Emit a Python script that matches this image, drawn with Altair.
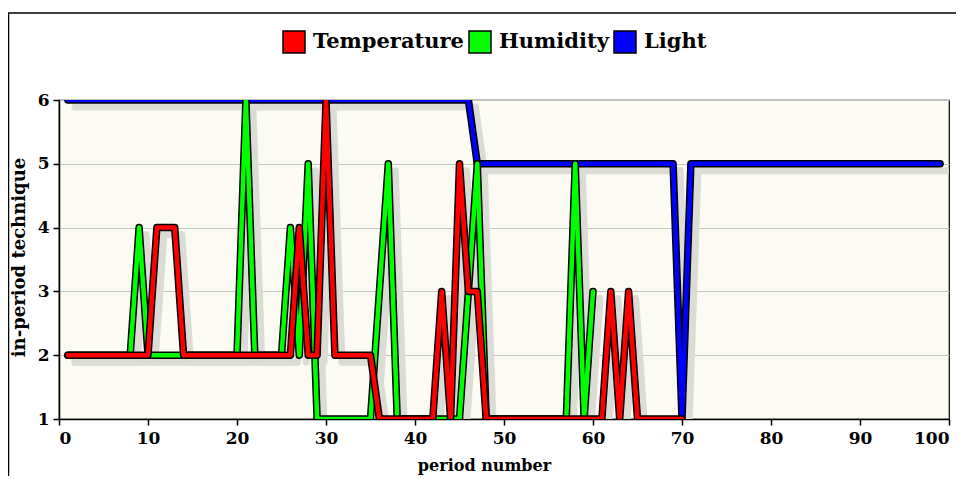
import altair as alt
import pandas as pd

series_names = ["Temperature", "Humidity", "Light"]
series_colors = ["#ff0000", "#00ff00", "#0000ff"]

temperature = [2, 2, 2, 2, 2, 2, 2, 2, 2, 2,
               4, 4, 4, 2, 2, 2, 2, 2, 2, 2,
               2, 2, 2, 2, 2, 2, 4, 2, 2, 6,
               2, 2, 2, 2, 2, 1, 1, 1, 1, 1,
               1, 1, 3, 1, 5, 3, 3, 1, 1, 1,
               1, 1, 1, 1, 1, 1, 1, 1, 1, 1,
               1, 3, 1, 3, 1, 1, 1, 1, 1, 1]

humidity = [2, 2, 2, 2, 2, 2, 2, 2, 4, 2,
            2, 2, 2, 2, 2, 2, 2, 2, 2, 2,
            6, 2, 2, 2, 2, 4, 2, 5, 1, 1,
            1, 1, 1, 1, 1, 3, 5, 1, 1, 1,
            1, 1, 1, 1, 1, 3, 5, 1, 1, 1,
            1, 1, 1, 1, 1, 1, 1, 5, 1, 3]

light = [6, 6, 6, 6, 6, 6, 6, 6, 6, 6,
         6, 6, 6, 6, 6, 6, 6, 6, 6, 6,
         6, 6, 6, 6, 6, 6, 6, 6, 6, 6,
         6, 6, 6, 6, 6, 6, 6, 6, 6, 6,
         6, 6, 6, 6, 6, 6, 5, 5, 5, 5,
         5, 5, 5, 5, 5, 5, 5, 5, 5, 5,
         5, 5, 5, 5, 5, 5, 5, 5, 5, 1,
         5, 5, 5, 5, 5, 5, 5, 5, 5, 5,
         5, 5, 5, 5, 5, 5, 5, 5, 5, 5,
         5, 5, 5, 5, 5, 5, 5, 5, 5]

x_ticks = [0, 10, 20, 30, 40, 50, 60, 70, 80, 90, 100]
y_ticks = [1, 2, 3, 4, 5, 6]

rows = []
for name, vals in zip(series_names, [temperature, humidity, light]):
    for i, v in enumerate(vals):
        rows.append({"series": name, "period": i + 1, "value": v})
df = pd.DataFrame(rows)

FONT = "DejaVu Serif"

x_enc = alt.X("period:Q",
              scale=alt.Scale(domain=[0, 100], nice=False, zero=False),
              axis=alt.Axis(values=x_ticks, title="period number", grid=False,
                            labelPadding=5, titleFontSize=16,
                            titleX=425, titleY=46, titleBaseline="middle",
                            titleAlign="center"))
y_enc = alt.Y("value:Q",
              scale=alt.Scale(domain=[1, 6], nice=False, zero=False),
              axis=alt.Axis(values=y_ticks, title="in-period technique", grid=True,
                            labelPadding=4, titleFontSize=18,
                            titleX=-31, titleY=157, titleAlign="center"))

base = alt.Chart(df)

frame = alt.Chart(alt.Data(values=[{"a": 1}])).mark_rect(
    filled=False, stroke="black", strokeWidth=1.5
).encode(x=alt.value(-50.5), x2=alt.value(1300), y=alt.value(-87), y2=alt.value(800))

shadow = base.mark_line(
    stroke="#dcdcd7", strokeWidth=7, xOffset=7, yOffset=7, clip=True,
    strokeCap="round", strokeJoin="round"
).encode(x=x_enc, y=y_enc, detail="series:N")

layers = [frame, shadow]
for name in ["Light", "Humidity", "Temperature"]:
    col = series_colors[series_names.index(name)]
    sub = base.transform_filter(alt.datum.series == name)
    layers.append(sub.mark_line(stroke="black", strokeWidth=7.5, clip=True,
                                strokeCap="round", strokeJoin="round").encode(x=x_enc, y=y_enc))
    layers.append(sub.mark_line(stroke=col, strokeWidth=4.5, clip=True,
                                strokeCap="round", strokeJoin="round").encode(x=x_enc, y=y_enc))

legend_layer = base.transform_filter("false").mark_square(
    size=484, filled=True, stroke="black", strokeWidth=1.5, opacity=1
).encode(
    x=x_enc, y=y_enc,
    color=alt.Color("series:N",
                    scale=alt.Scale(domain=series_names, range=series_colors),
                    legend=alt.Legend(title=None, orient="none", legendX=223, legendY=-70,
                                      direction="horizontal", symbolType="square",
                                      symbolSize=484, symbolStrokeColor="black",
                                      symbolStrokeWidth=1.5, labelFont=FONT,
                                      labelFontWeight="bold", labelFontSize=21,
                                      labelColor="black", labelOffset=7, labelLimit=300,
                                      columnPadding=2, padding=0))
)
layers.append(legend_layer)

chart = alt.layer(*layers).properties(
    width=890, height=319,
    autosize=alt.AutoSizeParams(type="none"),
    padding={"left": 51, "top": 92, "right": 7, "bottom": 57},
).configure_view(
    fill="#fbfbf3", stroke="black", strokeWidth=1.2
).configure_axis(
    domainColor="black", domainWidth=1.5, tickColor="black", tickSize=6, tickWidth=1.5,
    labelFont=FONT, labelFontWeight="bold", labelFontSize=17, labelColor="black",
    titleFont=FONT, titleFontWeight="bold", titleColor="black",
    gridColor="#c4c4c4", gridWidth=1
)

chart.save("out.html", embed_options={"renderer": "svg", "actions": False})
